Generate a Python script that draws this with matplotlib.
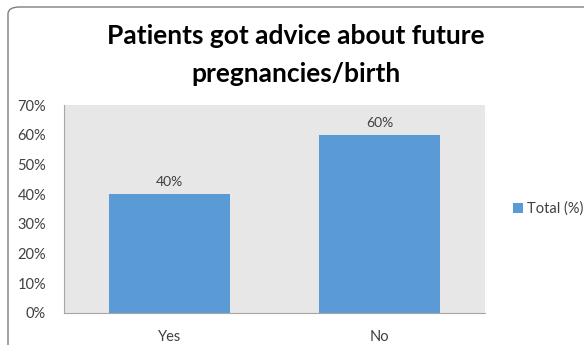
import matplotlib.pyplot as plt
from matplotlib.patches import FancyBboxPatch
from matplotlib.ticker import PercentFormatter

categories = ['Yes', 'No']
totals = [40, 60]
title = 'Patients got advice about future\npregnancies/birth'

plt.rcParams['font.family'] = ['Lato', 'DejaVu Sans']

fig = plt.figure(figsize=(5.84, 3.45), dpi=100)

# chart frame with rounded corner, running off the right and bottom edges
frame = FancyBboxPatch((8 / 584, -0.05), 1.2, 1 - 7 / 345 + 0.05,
                       boxstyle='round,pad=0,rounding_size=0.02',
                       transform=fig.transFigure, facecolor='white',
                       edgecolor='#7f7f7f', linewidth=1.0, zorder=-5)
fig.add_artist(frame)

ax = fig.add_axes([64 / 584, 1 - 313 / 345, 421 / 584, 208 / 345])
ax.set_zorder(1)
ax.set_facecolor('#e7e7e7')

x = range(len(categories))
bars = ax.bar(x, totals, width=0.575, color='#5b9bd5', label='Total (%)', zorder=2)

for bar, v in zip(bars, totals):
    ax.text(bar.get_x() + bar.get_width() / 2, v + 2, f'{v}%',
            ha='center', va='bottom', fontsize=10, color='#404040')

ax.set_xlim(-0.5, 1.5)
ax.set_ylim(0, 70)
ax.set_yticks(range(0, 71, 10))
ax.yaxis.set_major_formatter(PercentFormatter(decimals=0))
ax.set_xticks(list(x))
ax.set_xticklabels(categories)
ax.tick_params(axis='both', length=0, labelsize=10.5, colors='#404040')
ax.tick_params(axis='x', pad=12)
ax.tick_params(axis='y', pad=13)

for side in ['top', 'right']:
    ax.spines[side].set_visible(False)
for side in ['left', 'bottom']:
    ax.spines[side].set_color('#a6a6a6')

fig.text(0.5 + 8 / 584 / 2, 1 - 55 / 345, title, ha='center', va='center',
         fontsize=19, fontweight='bold', color='black', linespacing=1.75,
         zorder=2)

ax.legend(loc='center left', bbox_to_anchor=(1.035, 0.5), frameon=False,
          fontsize=10.5, handlelength=0.7, handleheight=0.7, handletextpad=0.3,
          labelcolor='#404040')

fig.savefig('out.png', dpi=100)
